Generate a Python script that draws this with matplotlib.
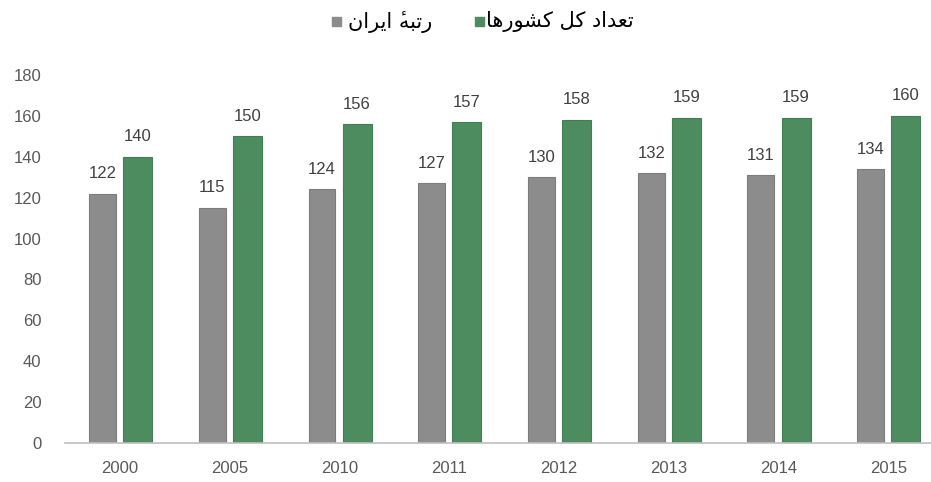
import matplotlib.pyplot as plt
import numpy as np

years = ["2000", "2005", "2010", "2011", "2012", "2013", "2014", "2015"]
iran_rank = [122, 115, 124, 127, 130, 132, 131, 134]
total_countries = [140, 150, 156, 157, 158, 159, 159, 160]

# Persian labels, pre-shaped (presentation forms, visual order)
label_rank = "\uFEE5\uFE8D\uFEAE\uFEF3\uFE8D \u0654\uFEEA\uFE92\uFE97\uFEAD"   # رتبۀ ایران
label_total = ("\uFE8E\uFEEB\uFEAD\uFEEE\uFEB8\uFB90 \uFEDE\uFB90 "
               "\uFEA9\uFE8D\uFEAA\uFECC\uFE97")                               # تعداد کل کشورها

gray = "#8c8c8c"
green = "#4d8c5f"
text_color = "#595959"

plt.rcParams['font.family'] = ['Liberation Sans', 'DejaVu Sans']

fig = plt.figure(figsize=(9.31, 4.82), dpi=100, facecolor='w')
ax = fig.add_axes([0.07, 0.0809, 0.943, 0.7635])

x = np.arange(len(years))
b1 = ax.bar(x - 0.16, iran_rank, width=0.245, color=gray, edgecolor='#7c7c7c', lw=0.8)
b2 = ax.bar(x + 0.16, total_countries, width=0.265, color=green, edgecolor='#437d54', lw=0.8)

for bars in (b1, b2):
    for b in bars:
        h = b.get_height()
        ax.annotate(f"{h:.0f}", (b.get_x() + b.get_width() / 2, h),
                    xytext=(0, 9), textcoords='offset points',
                    ha='center', va='bottom', fontsize=12, color='#404040')

ax.set_xlim(-0.5, 7.5)
ax.set_ylim(0, 180)
ax.set_yticks(range(0, 181, 20))
ax.set_xticks(x)
ax.set_xticklabels(years)
ax.tick_params(axis='both', length=0, labelsize=12, colors=text_color)
ax.tick_params(axis='x', pad=13)
ax.tick_params(axis='y', pad=17)
for s in ['top', 'right', 'left']:
    ax.spines[s].set_visible(False)
ax.spines['bottom'].set_color('#bfbfbf')
ax.spines['bottom'].set_linewidth(1.2)

# legend
fig.patches.append(plt.Rectangle((332 / 931, 1 - 26 / 482), 9 / 931, 9 / 482,
                                 transform=fig.transFigure, color=gray, figure=fig))
fig.text(348 / 931, 1 - 22 / 482, label_rank, family=['DejaVu Sans'],
         fontsize=15, ha='left', va='center', color='black')
fig.patches.append(plt.Rectangle((475 / 931, 1 - 26 / 482), 9 / 931, 9 / 482,
                                 transform=fig.transFigure, color=green, figure=fig))
fig.text(486 / 931, 1 - 22 / 482, label_total, family=['DejaVu Sans'],
         fontsize=15, ha='left', va='center', color='black')

plt.savefig('out.png', dpi=100)
